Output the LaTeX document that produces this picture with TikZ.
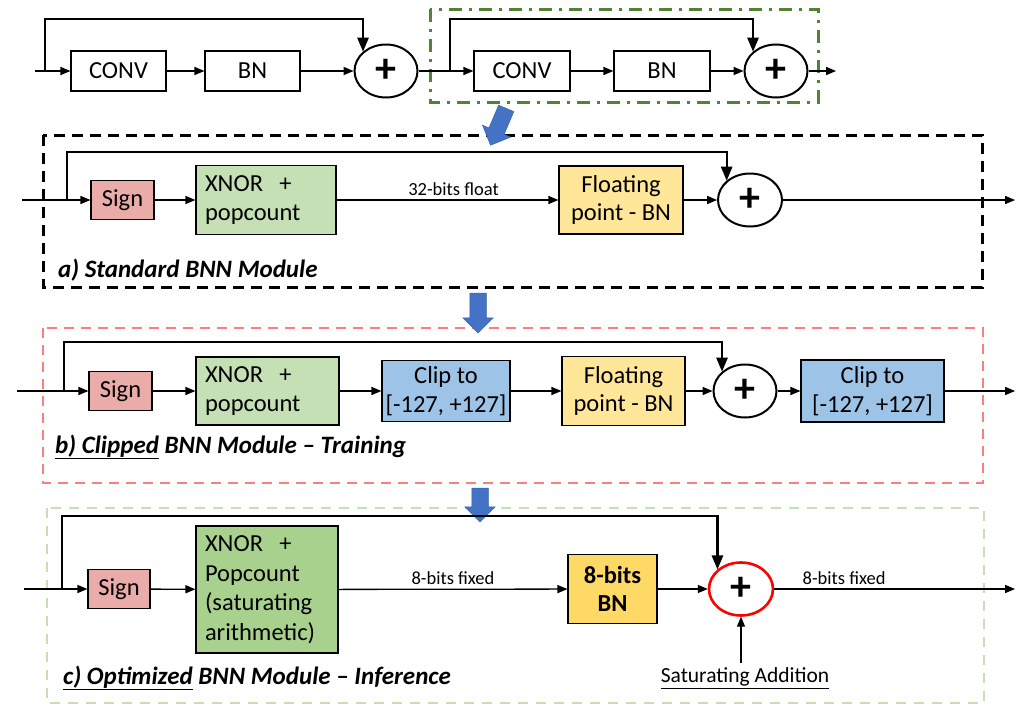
\documentclass[tikz,border=0pt]{standalone}
\usepackage{fontspec}
\setmainfont{Carlito}
\usetikzlibrary{shapes,arrows}
\usetikzlibrary{calc}
\definecolor{signred}{RGB}{234,172,168}
\definecolor{xnorgreen}{RGB}{197,224,180}
\definecolor{xnordark}{RGB}{169,209,142}
\definecolor{fpyellow}{RGB}{255,230,153}
\definecolor{bnyellow}{RGB}{255,217,102}
\definecolor{clipblue}{RGB}{157,195,230}
\definecolor{framegreen}{RGB}{84,130,53}
\definecolor{framepink}{RGB}{255,124,128}
\definecolor{framelight}{RGB}{197,224,180}
\definecolor{arrowblue}{RGB}{68,114,196}

\begin{document}
\begin{tikzpicture}[x=1pt,y=-1pt]

\tikzstyle{blk} = [draw, line width=1.3, inner sep=0, align=center, font=\fontsize{24.5}{28.5}\selectfont]
\tikzstyle{lblk} = [blk, align=left, inner xsep=9]
\tikzstyle{sum} = [draw, ellipse, line width=2, inner sep=0, minimum width=63, minimum height=53, font=\fontsize{42}{42}\selectfont\bfseries]
\tikzstyle{wire} = [line width=1.3, -triangle 45]
\tikzstyle{skip} = [line width=2.3, -triangle 45]
\tikzstyle{lbl} = [font=\fontsize{18.5}{22}\selectfont, inner sep=4]
\tikzstyle{title} = [anchor=west, inner sep=0, font=\fontsize{25}{30}\selectfont\bfseries\itshape]
\tikzstyle{down-arrow} = [single arrow, fill=arrowblue, draw=arrowblue!85!black, line width=0.5, minimum height=40, inner xsep=0, inner ysep=8, single arrow head extend=7]

\useasboundingbox (0,0) rectangle (1017,707);

% module frames
\draw[framegreen, line width=3, dash pattern=on 13pt off 7pt on 3pt off 7pt] (430,9) rectangle (818,102);
\draw[black, line width=3, dash pattern=on 11pt off 7pt] (43,135) rectangle (982,287);
\draw[framepink, line width=2.6, dash pattern=on 10pt off 7pt] (43,328) rectangle (983,483);
\draw[framelight, line width=2.6, dash pattern=on 10pt off 8pt] (47,508) rectangle (984,703);

%%%% residual block (top)
\coordinate (in1) at (35,71);
\coordinate (br1) at (45,71);
\node [blk, minimum width=95, minimum height=40] (conv1) at (118.5,71) {CONV};
\node [blk, minimum width=95, minimum height=40] (bn1) at (252.5,71) {BN};
\node [sum] (add1) at (386,71) {+};
\coordinate (br2) at (450,71);
\node [blk, minimum width=96, minimum height=40] (conv2) at (522,71) {CONV};
\node [blk, minimum width=96, minimum height=40] (bn2) at (662,71) {BN};
\node [sum] (add2) at (776,71) {+};
\coordinate (out1) at (836,71);

\draw[wire] (in1) -- (conv1);
\draw[wire] (conv1) -- (bn1);
\draw[wire] (bn1) -- (add1);
\draw[skip] (br1) -- ++(0,-52) -| (add1.north west);
\draw[wire] (add1) -- (conv2);
\draw[wire] (conv2) -- (bn2);
\draw[wire] (bn2) -- (add2);
\draw[skip] (br2) -- ++(0,-52) -| (add2.north west);
\draw[wire] (add2) -- (out1);

\node [down-arrow, rotate=-113] (zoomarrow) at (500,123) {};

%%%% a) standard module
\coordinate (in2) at (22,200);
\coordinate (br3) at (67,200);
\node [blk, fill=signred, minimum width=63, minimum height=39] (sign1) at (122.5,200) {Sign};
\node [lblk, fill=xnorgreen, text width=122, minimum height=69] (xnor1) at (266,200) {XNOR~~+\\popcount};
\node [blk, fill=fpyellow, minimum width=124, minimum height=68] (fpbn1) at (621,200) {Floating\\point - BN};
\node [sum, minimum width=64] (add3) at (750,200) {+};
\coordinate (out2) at (1015,200);

\draw[wire] (in2) -- (sign1);
\draw[wire] (sign1) -- (xnor1);
\draw[wire] (xnor1) -- node[lbl, above, xshift=6] {32-bits float} (fpbn1);
\draw[wire] (fpbn1) -- (add3);
\draw[skip] (br3) -- ++(0,-48) -| (add3.north west);
\draw[wire] (add3) -- (out2);

\node [title] (titlea) at (58,270) {a) Standard BNN Module};

\node [down-arrow, rotate=-90] (steparrow1) at (478,309) {};

%%%% b) clipped module
\coordinate (in3) at (17,391);
\coordinate (br4) at (64,391);
\node [blk, fill=signred, minimum width=63, minimum height=39] (sign2) at (120.5,391) {Sign};
\node [lblk, fill=xnorgreen, text width=125, minimum height=68] (xnor2) at (267.5,391) {XNOR~~+\\popcount};
\node [blk, fill=clipblue, minimum width=128, minimum height=61] (clip1) at (446,391) {Clip to\\{[-127, +127]}};
\node [blk, fill=fpyellow, minimum width=123, minimum height=69] (fpbn2) at (623.5,391) {Floating\\point - BN};
\node [sum] (add4) at (745,391) {+};
\node [blk, fill=clipblue, minimum width=143, minimum height=62] (clip2) at (872.5,391) {Clip to\\{[-127, +127]}};
\coordinate (out3) at (1015,391);

\draw[wire] (in3) -- (sign2);
\draw[wire] (sign2) -- (xnor2);
\draw[wire] (xnor2) -- (clip1);
\draw[wire] (clip1) -- (fpbn2);
\draw[wire] (fpbn2) -- (add4);
\draw[skip] (br4) -- ++(0,-49) -| (add4.north west);
\draw[wire] (add4) -- (clip2);
\draw[wire] (clip2) -- (out3);

\node [title] (titleb) at (55,447) {\underline{b) Clipped} BNN Module -- Training};

\node [down-arrow, rotate=-90, minimum height=34] (steparrow2) at (480,501) {};

%%%% c) optimized module
\coordinate (in4) at (24,589);
\coordinate (br5) at (62,589);
\node [blk, fill=signred, minimum width=62, minimum height=39] (sign3) at (119,589) {Sign};
\node [lblk, fill=xnordark, text width=124, minimum height=127, font=\fontsize{24.5}{29.5}\selectfont] (xnor3) at (267,589.5) {XNOR~~+\\Popcount\\(saturating\\arithmetic)};
\node [blk, fill=bnyellow, minimum width=89, minimum height=69, font=\fontsize{24.5}{28.5}\selectfont\bfseries] (bn8) at (612.5,589) {8-bits\\BN};
\node [sum, draw=red, line width=2.6, minimum width=64] (add5) at (741,589) {+};
\coordinate (out4) at (1015,589);
\node [lbl, font=\fontsize{21.5}{25}\selectfont] (satlbl) at (745,678) {\underline{Saturating Addition}};

\draw[wire] (in4) -- (sign3);
\draw[wire] (sign3) -- (xnor3);
\draw[wire] (xnor3) -- node[lbl, above] {8-bits fixed} (bn8);
\draw[wire] (bn8) -- (add5);
\draw[skip] (br5) -- ++(0,-73) -| (add5.north west);
\draw[wire] (add5) -- node[lbl, above, pos=0.29] {8-bits fixed} (out4);
\draw[wire] (satlbl.north -| add5.south) -- (add5.south);

\node [title] (titlec) at (63,678) {\underline{c) Optimized} BNN Module -- Inference};

\end{tikzpicture}
\end{document}
